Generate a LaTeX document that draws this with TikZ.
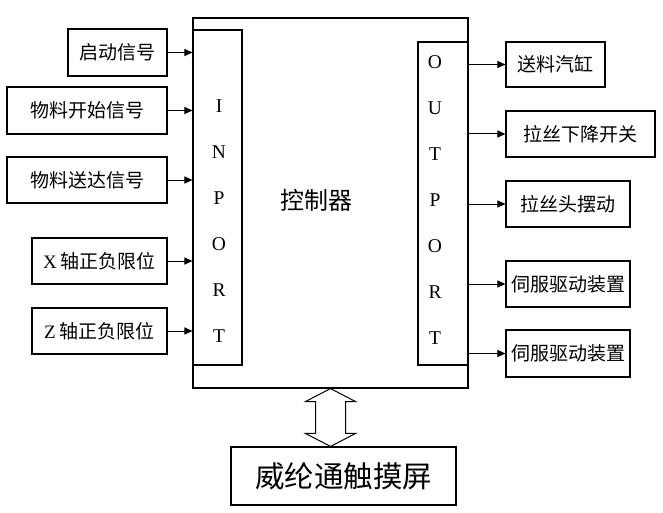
\documentclass[tikz,border=0pt]{standalone}
\usepackage{fontspec}
\setmainfont{Liberation Serif}
\newfontfamily\cjk{Noto Sans CJK SC}
\usetikzlibrary{arrows.meta,calc}
\begin{document}
\begin{tikzpicture}[x=1pt,y=-1pt,
  box/.style={draw,line width=1.1pt,inner sep=0pt,align=center},
  lbl/.style={box,font=\cjk\fontsize{19pt}{21pt}\selectfont},
  arr/.style={line width=1pt,-{Triangle[length=8pt,width=7pt]}},
  ports/.style={inner sep=0pt,align=center,font=\fontsize{19.5pt}{46pt}\selectfont}]
\useasboundingbox (0,0) rectangle (663,513);
\fill[white] (0,0) rectangle (663,513);
% controller
\node[box,minimum width=275pt,minimum height=370pt] (ctrl) at (330.5,203) {};
\node[box,minimum width=49pt,minimum height=335pt] (in) at (217.5,197.5) {};
\node[box,minimum width=50pt,minimum height=323pt] (out) at (443,203.5) {};
\node[ports] (inl) at (219,221) {I\\N\\P\\O\\R\\T};
\node[ports] (outl) at (435,200) {O\\U\\T\\P\\O\\R\\T};
\node[font=\cjk\fontsize{24pt}{26pt}\selectfont,inner sep=0pt] (ctrltxt) at (316,200) {控制器};
% inputs
\node[lbl,minimum width=99pt,minimum height=47pt] (s1) at (117.5,52.5) {启动信号};
\node[lbl,minimum width=160pt,minimum height=47pt] (s2) at (87,110.5) {物料开始信号};
\node[lbl,minimum width=160pt,minimum height=46pt] (s3) at (87,180) {物料送达信号};
\node[lbl,minimum width=135pt,minimum height=46pt] (s4) at (99.5,261) {{\rmfamily X} 轴正负限位};
\node[lbl,minimum width=135pt,minimum height=46pt] (s5) at (99.5,331) {{\rmfamily Z} 轴正负限位};
\foreach \n in {s1,s2,s3,s4,s5}
  \draw[arr] (\n.east) -- (\n.east -| in.west);
% outputs
\node[lbl,minimum width=99pt,minimum height=45pt] (r1) at (555.5,64.5) {送料汽缸};
\node[lbl,minimum width=149pt,minimum height=46pt] (r2) at (580.5,134) {拉丝下降开关};
\node[lbl,minimum width=124pt,minimum height=46pt] (r3) at (568,204) {拉丝头摆动};
\node[lbl,minimum width=124pt,minimum height=46pt] (r4) at (568,284) {伺服驱动装置};
\node[lbl,minimum width=124pt,minimum height=47pt] (r5) at (568,353.5) {伺服驱动装置};
\foreach \n in {r1,r2,r3,r4,r5}
  \draw[arr] (\n.west -| out.east) -- (\n.west);
% HMI
\node[box,font=\cjk\fontsize{29.5pt}{31pt}\selectfont,minimum width=225pt,minimum height=58pt] (hmi) at (343.5,476) {威纶通触摸屏};
\coordinate (ta) at (ctrl.south);
\coordinate (tb) at (ctrl.south |- hmi.north);
\draw[line width=1pt,fill=white]
  (ta) -- ($(ta)+(-25,13)$) -- ($(ta)+(-15,13)$) -- ($(tb)+(-15,-13)$) -- ($(tb)+(-25,-13)$)
  -- (tb) -- ($(tb)+(25,-13)$) -- ($(tb)+(15,-13)$) -- ($(ta)+(15,13)$) -- ($(ta)+(25,13)$) -- cycle;
\end{tikzpicture}
\end{document}
